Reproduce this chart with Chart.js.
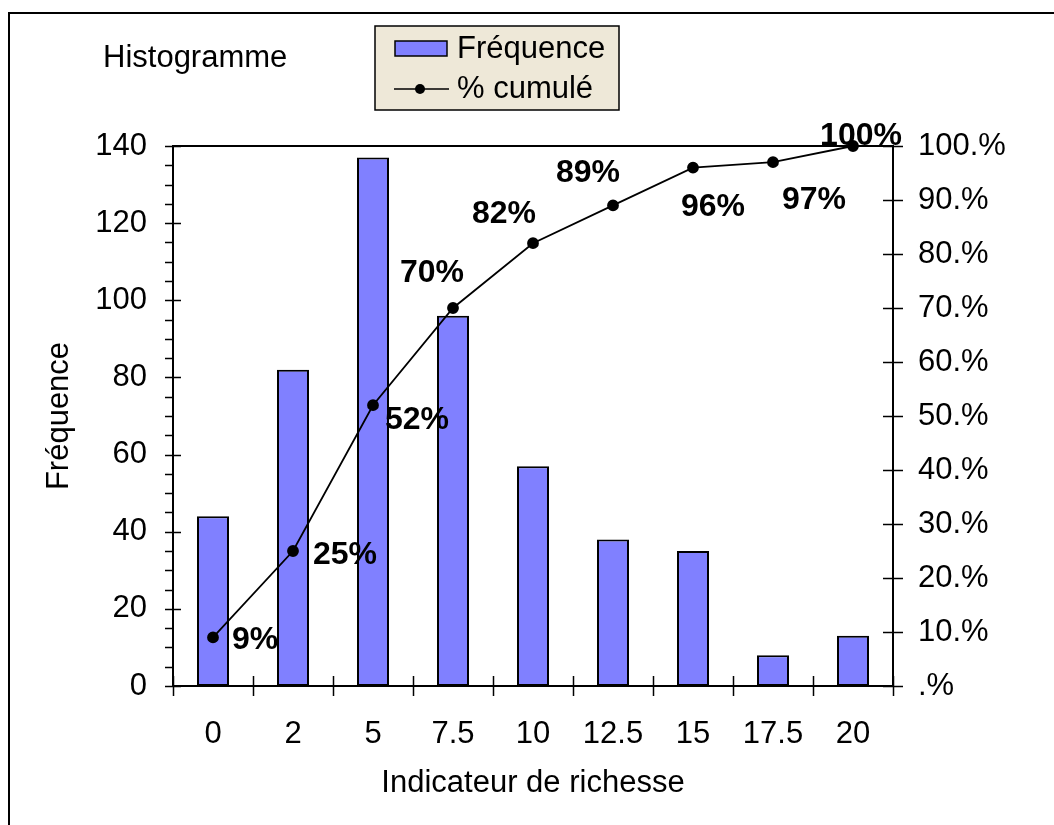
<!DOCTYPE html>
<html>
<head>
<meta charset="utf-8">
<script src="https://cdn.jsdelivr.net/npm/chart.js@4/dist/chart.umd.min.js"></script>
<style>
  html, body { margin: 0; padding: 0; background: #ffffff; }
  #wrap { width: 1054px; height: 825px; position: relative; }
</style>
</head>
<body>
<div id="wrap"><canvas id="c" width="1054" height="825"></canvas></div>
<script>
// Classes of the wealth indicator
const categories = ['0', '2', '5', '7.5', '10', '12.5', '15', '17.5', '20'];
// Number of observations in each class
const frequencies = [44, 82, 137, 96, 57, 38, 35, 8, 13];
// Cumulative share of observations, in percent
const cumulativePct = [9, 25, 52, 70, 82, 89, 96, 97, 100];
// Tick labels of the right-hand percentage axis (0 .. 100 by 10)
const pctTickLabels = ['.%', '10.%', '20.%', '30.%', '40.%', '50.%', '60.%', '70.%', '80.%', '90.%', '100.%'];

const seriesNames = ['Fréquence', '% cumulé'];
const chartTitle = 'Histogramme';
const xTitle = 'Indicateur de richesse';
const yTitle = 'Fréquence';

// Where each cumulative label sits relative to its point (dx, dy in px)
const labelOffsets = [[42, 3], [52, 4], [44, 15], [-21, -35], [-29, -29], [-25, -32], [20, 40], [41, 38], [8, -10]];

const FONT = '"Liberation Sans", Arial, Helvetica, sans-serif';
const FS = 31;
const FS_LABEL = 32;
const BAR_FILL = '#8080FF';
const LEGEND_BG = '#EEE8D8';

// White page with the outer frame (left and top edges)
const framePlugin = {
  id: 'frame',
  beforeDraw(chart) {
    const ctx = chart.ctx;
    ctx.save();
    ctx.fillStyle = '#ffffff';
    ctx.fillRect(0, 0, chart.width, chart.height);
    ctx.strokeStyle = '#000';
    ctx.lineWidth = 2;
    ctx.beginPath();
    ctx.moveTo(9, chart.height + 5);
    ctx.lineTo(9, 13);
    ctx.lineTo(chart.width + 5, 13);
    ctx.stroke();
    ctx.restore();
  }
};

// Plot border and tick marks, positioned from the scales
const axesPlugin = {
  id: 'axesMarks',
  beforeDatasetsDraw(chart) {
    const ctx = chart.ctx;
    const a = chart.chartArea;
    const y = chart.scales.y, y1 = chart.scales.y1, x = chart.scales.x;
    ctx.save();
    ctx.strokeStyle = '#000';
    ctx.lineWidth = 1.5;
    ctx.beginPath();
    // left axis: major ticks cross the axis, minor ticks outside
    for (let v = 0; v <= y.max; v += 5) {
      const py = Math.round(y.getPixelForValue(v)) + 0.5;
      const major = v % 20 === 0;
      ctx.moveTo(a.left - 8, py);
      ctx.lineTo(major ? a.left + 8 : a.left, py);
    }
    // right axis: ticks crossing the axis
    for (let v = 0; v <= y1.max; v += 10) {
      const py = Math.round(y1.getPixelForValue(v)) + 0.5;
      ctx.moveTo(a.right - 10, py);
      ctx.lineTo(a.right + 10, py);
    }
    // category boundaries on the bottom axis
    const n = categories.length;
    for (let i = 0; i <= n; i++) {
      const px = Math.round(x.getPixelForValue(i - 0.5)) + 0.5;
      ctx.moveTo(px, a.bottom - 10);
      ctx.lineTo(px, a.bottom + 10);
    }
    ctx.stroke();
    ctx.lineWidth = 2;
    ctx.strokeRect(a.left, a.top, a.right - a.left, a.bottom - a.top);
    ctx.restore();
  }
};

// Cumulative percentage labels, title text and legend box
const overlayPlugin = {
  id: 'overlay',
  afterDatasetsDraw(chart) {
    const ctx = chart.ctx;
    const meta = chart.getDatasetMeta(1);
    ctx.save();
    ctx.fillStyle = '#000';
    ctx.font = 'bold ' + FS_LABEL + 'px ' + FONT;
    ctx.textAlign = 'center';
    ctx.textBaseline = 'middle';
    meta.data.forEach((pt, i) => {
      const off = labelOffsets[i];
      ctx.fillText(chart.data.datasets[1].data[i] + '%', pt.x + off[0], pt.y + off[1]);
    });
    ctx.restore();
  },
  afterDraw(chart) {
    const ctx = chart.ctx;
    ctx.save();
    ctx.fillStyle = '#000';
    ctx.font = FS + 'px ' + FONT;
    ctx.textAlign = 'left';
    ctx.textBaseline = 'middle';
    ctx.fillText(chartTitle, 103, 58);

    // legend
    const lx = 375, ly = 26, lw = 244, lh = 84;
    ctx.fillStyle = LEGEND_BG;
    ctx.fillRect(lx, ly, lw, lh);
    ctx.strokeStyle = '#000';
    ctx.lineWidth = 1.5;
    ctx.strokeRect(lx, ly, lw, lh);
    const ds = chart.data.datasets;
    ctx.fillStyle = ds[0].backgroundColor;
    ctx.fillRect(395, 41, 52, 15);
    ctx.lineWidth = 1.5;
    ctx.strokeRect(395, 41, 52, 15);
    ctx.beginPath();
    ctx.moveTo(394, 89);
    ctx.lineTo(449, 89);
    ctx.stroke();
    ctx.fillStyle = '#000';
    ctx.beginPath();
    ctx.arc(420, 89, 5, 0, Math.PI * 2);
    ctx.fill();
    ctx.fillText(ds[0].label, 457, 49);
    ctx.fillText(ds[1].label, 457, 89);
    ctx.restore();
  }
};

new Chart(document.getElementById('c'), {
  data: {
    labels: categories,
    datasets: [
      {
        type: 'bar',
        label: seriesNames[0],
        data: frequencies,
        yAxisID: 'y',
        backgroundColor: BAR_FILL,
        borderColor: '#000',
        borderWidth: 2,
        borderSkipped: false,
        barPercentage: 0.4,
        categoryPercentage: 1,
        order: 1
      },
      {
        type: 'line',
        label: seriesNames[1],
        data: cumulativePct,
        yAxisID: 'y1',
        borderColor: '#000',
        borderWidth: 1.8,
        pointBackgroundColor: '#000',
        pointBorderColor: '#000',
        pointRadius: 5,
        tension: 0,
        clip: false,
        order: 0
      }
    ]
  },
  options: {
    responsive: false,
    devicePixelRatio: 1,
    animation: false,
    layout: { padding: { top: 146, left: 0, right: 0, bottom: 0 } },
    plugins: { legend: { display: false }, tooltip: { enabled: false } },
    scales: {
      x: {
        offset: true,
        grid: { display: false, drawTicks: false },
        border: { display: false },
        ticks: { color: '#000', font: { family: FONT, size: FS }, padding: 30, maxRotation: 0 },
        title: { display: true, text: xTitle, color: '#000', font: { family: FONT, size: FS }, padding: { bottom: 23 } },
        afterFit(s) { s.height = 139; }
      },
      y: {
        position: 'left',
        min: 0, max: 140,
        ticks: { stepSize: 20, color: '#000', font: { family: FONT, size: FS }, padding: 26 },
        grid: { display: false, drawTicks: false },
        border: { display: false },
        title: { display: true, text: yTitle, color: '#000', font: { family: FONT, size: FS }, padding: { top: 41 } },
        afterFit(s) { s.width = 173; }
      },
      y1: {
        position: 'right',
        min: 0, max: 100,
        ticks: {
          stepSize: 10, color: '#000', font: { family: FONT, size: FS }, padding: 25,
          callback: (v, i) => pctTickLabels[i]
        },
        grid: { display: false, drawTicks: false },
        border: { display: false },
        afterFit(s) { s.width = 161; }
      }
    }
  },
  plugins: [framePlugin, axesPlugin, overlayPlugin]
});
</script>
</body>
</html>
